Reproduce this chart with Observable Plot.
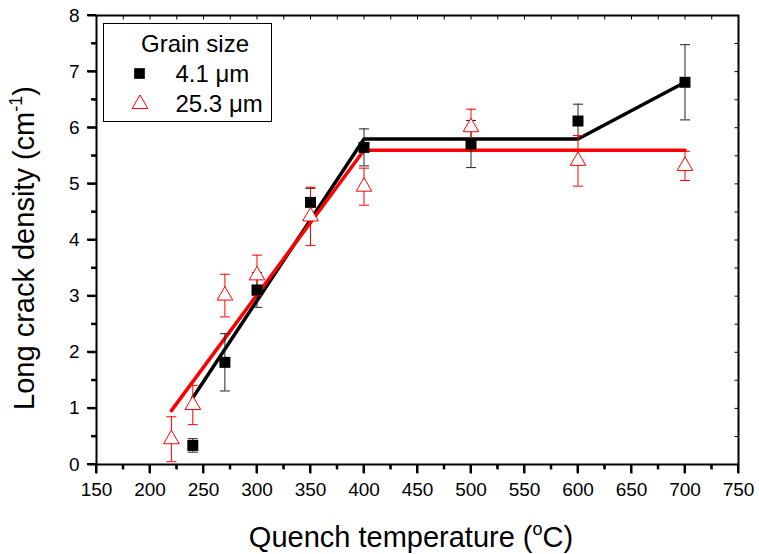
<!DOCTYPE html>
<html><head><meta charset="utf-8">
<script src="https://cdn.jsdelivr.net/npm/d3@7"></script>
<script src="https://cdn.jsdelivr.net/npm/@observablehq/plot@0.6"></script>
<style>body{margin:0;background:#fff}</style>
</head><body><div id="chart"></div>
<script>
// Grain size 4.1 µm (black squares)
const temps41 = [240, 270, 300, 350, 400, 500, 600, 700];
const dens41  = [0.34, 1.82, 3.11, 4.67, 5.65, 5.71, 6.12, 6.81];
const err41   = [0.12, 0.51, 0.31, 0.25, 0.33, 0.42, 0.30, 0.67];
// Grain size 25.3 µm (red open triangles)
const temps253 = [220, 240, 270, 300, 350, 400, 500, 600, 700];
const dens253  = [0.45, 1.06, 3.01, 3.37, 4.42, 4.95, 6.01, 5.41, 5.32];
const err253   = [0.40, 0.35, 0.38, 0.36, 0.52, 0.33, 0.32, 0.45, 0.26];
// Fitted trend lines
const fit41X  = [240, 400, 600, 700];
const fit41Y  = [1.19, 5.80, 5.80, 6.81];
const fit253X = [220, 400, 700];
const fit253Y = [0.96, 5.60, 5.60];
// Ticks
const xMajor = [150, 200, 250, 300, 350, 400, 450, 500, 550, 600, 650, 700, 750];
const xMinor = [175, 225, 275, 325, 375, 425, 475, 525, 575, 625, 675, 725];
const yMajor = [0, 1, 2, 3, 4, 5, 6, 7, 8];
const yMinor = [0.5, 1.5, 2.5, 3.5, 4.5, 5.5, 6.5, 7.5];
const seriesLabels = ["4.1 \u03bcm", "25.3 \u03bcm"];

const fine = temps41.map((x, i) => ({x, y: dens41[i], e: err41[i]}));
const coarse = temps253.map((x, i) => ({x, y: dens253[i], e: err253[i]}));
const fitFine = fit41X.map((x, i) => ({x, y: fit41Y[i]}));
const fitCoarse = fit253X.map((x, i) => ({x, y: fit253Y[i]}));

const cap = {draw(ctx) { ctx.moveTo(-5, 0); ctx.lineTo(5, 0); }};
const tick = (dx, dy) => ({draw(ctx) { ctx.moveTo(0, 0); ctx.lineTo(dx, dy); }});
const RED = "#ff0000", DARK = "#222";
const FONT = "'Liberation Sans', Arial, sans-serif";

const svg = Plot.plot({
  width: 759, height: 554,
  marginLeft: 96, marginRight: 21, marginTop: 15, marginBottom: 90,
  x: {domain: [150, 750]},
  y: {domain: [0, 8]},
  style: {fontFamily: FONT, fontSize: "19px", color: "#000", background: "#fff"},
  marks: [
    Plot.line(fitFine, {x: "x", y: "y", stroke: "#000", strokeWidth: 3.5}),
    Plot.line(fitCoarse, {x: "x", y: "y", stroke: RED, strokeWidth: 3.5}),
    Plot.ruleX(fine, {x: "x", y1: d => d.y - d.e, y2: d => d.y + d.e, stroke: DARK, strokeWidth: 1}),
    Plot.dot(fine, {x: "x", y: d => d.y + d.e, symbol: cap, fill: "none", stroke: DARK, strokeWidth: 1}),
    Plot.dot(fine, {x: "x", y: d => d.y - d.e, symbol: cap, fill: "none", stroke: DARK, strokeWidth: 1}),
    Plot.ruleX(coarse, {x: "x", y1: d => d.y - d.e, y2: d => d.y + d.e, stroke: RED, strokeWidth: 1}),
    Plot.dot(coarse, {x: "x", y: d => d.y + d.e, symbol: cap, fill: "none", stroke: RED, strokeWidth: 1}),
    Plot.dot(coarse, {x: "x", y: d => d.y - d.e, symbol: cap, fill: "none", stroke: RED, strokeWidth: 1}),
    Plot.dot(fine, {x: "x", y: "y", symbol: "square", r: 6.2, fill: "#000", stroke: "none"}),
    Plot.dot(coarse, {x: "x", y: "y", symbol: "triangle", r: 5.8, fill: "#fff", stroke: RED, strokeWidth: 1}),
    Plot.frame({stroke: "#000", strokeWidth: 2}),
    // tick labels
    Plot.axisX({ticks: xMajor, tickSize: 0, tickPadding: 18, label: null, fontSize: 19}),
    Plot.axisY({ticks: yMajor, tickSize: 0, tickPadding: 17, label: null, fontSize: 19}),
    // tick marks
    Plot.dot(xMajor, {x: d => d, y: () => 0, symbol: tick(0, 9), fill: "none", stroke: "#000", strokeWidth: 2}),
    Plot.dot(xMinor, {x: d => d, y: () => 0, symbol: tick(0, 5), fill: "none", stroke: "#000", strokeWidth: 2}),
    Plot.dot(yMajor, {x: () => 150, y: d => d, symbol: tick(-9, 0), fill: "none", stroke: "#000", strokeWidth: 2}),
    Plot.dot(yMinor, {x: () => 150, y: d => d, symbol: tick(-5, 0), fill: "none", stroke: "#000", strokeWidth: 2}),
    Plot.dot(xMajor.concat(xMinor), {x: d => d, y: () => 8, symbol: tick(0, 4), fill: "none", stroke: "#000", strokeWidth: 1}),
    Plot.dot(yMajor.concat(yMinor), {x: () => 750, y: d => d, symbol: tick(-4, 0), fill: "none", stroke: "#000", strokeWidth: 1})
  ]
});
document.getElementById("chart").appendChild(svg);

const s = d3.select(svg);
// X title
const xt = s.append("text").attr("x", 411).attr("y", 547).attr("text-anchor", "middle")
  .attr("font-family", FONT).attr("font-size", 29).attr("fill", "#000");
xt.append("tspan").text("Quench temperature (");
xt.append("tspan").attr("font-size", 18).attr("dy", -12).text("o");
xt.append("tspan").attr("dy", 12).text("C)");
// Y title
const yt = s.append("text").attr("transform", "translate(34,248) rotate(-90)").attr("text-anchor", "middle")
  .attr("font-family", FONT).attr("font-size", 29).attr("fill", "#000");
yt.append("tspan").text("Long crack density (cm");
yt.append("tspan").attr("font-size", 18).attr("dy", -12).text("-1");
yt.append("tspan").attr("dy", 12).text(")");
// Legend
const lg = s.append("g").attr("font-family", FONT).attr("font-size", 24).attr("fill", "#000").attr("text-anchor", "start");
lg.append("rect").attr("x", 103.5).attr("y", 23.5).attr("width", 168).attr("height", 98)
  .attr("fill", "#fff").attr("stroke", "#000").attr("stroke-width", 1);
lg.append("text").attr("x", 141).attr("y", 51.5).text("Grain size");
lg.append("path").attr("transform", "translate(139.5,73.5)")
  .attr("d", d3.symbol(d3.symbolSquare, 114)()).attr("fill", "#000");
lg.append("text").attr("x", 175.5).attr("y", 81.5).text(seriesLabels[0]);
lg.append("path").attr("transform", "translate(140,104)")
  .attr("d", d3.symbol(d3.symbolTriangle, 106)()).attr("fill", "#fff").attr("stroke", RED).attr("stroke-width", 1);
lg.append("text").attr("x", 175.5).attr("y", 111.5).text(seriesLabels[1]);

// outward ticks again, on top of everything, positioned with Plot's own scales
const sx = v => svg.scale("x").apply(v);
const sy = v => svg.scale("y").apply(v);
const tg = s.append("g").attr("stroke", "#000").attr("stroke-width", 2).attr("fill", "none");
const y0 = sy(0), x0 = sx(150);
xMajor.forEach(v => tg.append("line").attr("x1", sx(v)).attr("x2", sx(v)).attr("y1", y0).attr("y2", y0 + 9));
xMinor.forEach(v => tg.append("line").attr("x1", sx(v)).attr("x2", sx(v)).attr("y1", y0).attr("y2", y0 + 5));
yMajor.forEach(v => tg.append("line").attr("y1", sy(v)).attr("y2", sy(v)).attr("x1", x0).attr("x2", x0 - 9));
yMinor.forEach(v => tg.append("line").attr("y1", sy(v)).attr("y2", sy(v)).attr("x1", x0).attr("x2", x0 - 5));
</script>
</body></html>
